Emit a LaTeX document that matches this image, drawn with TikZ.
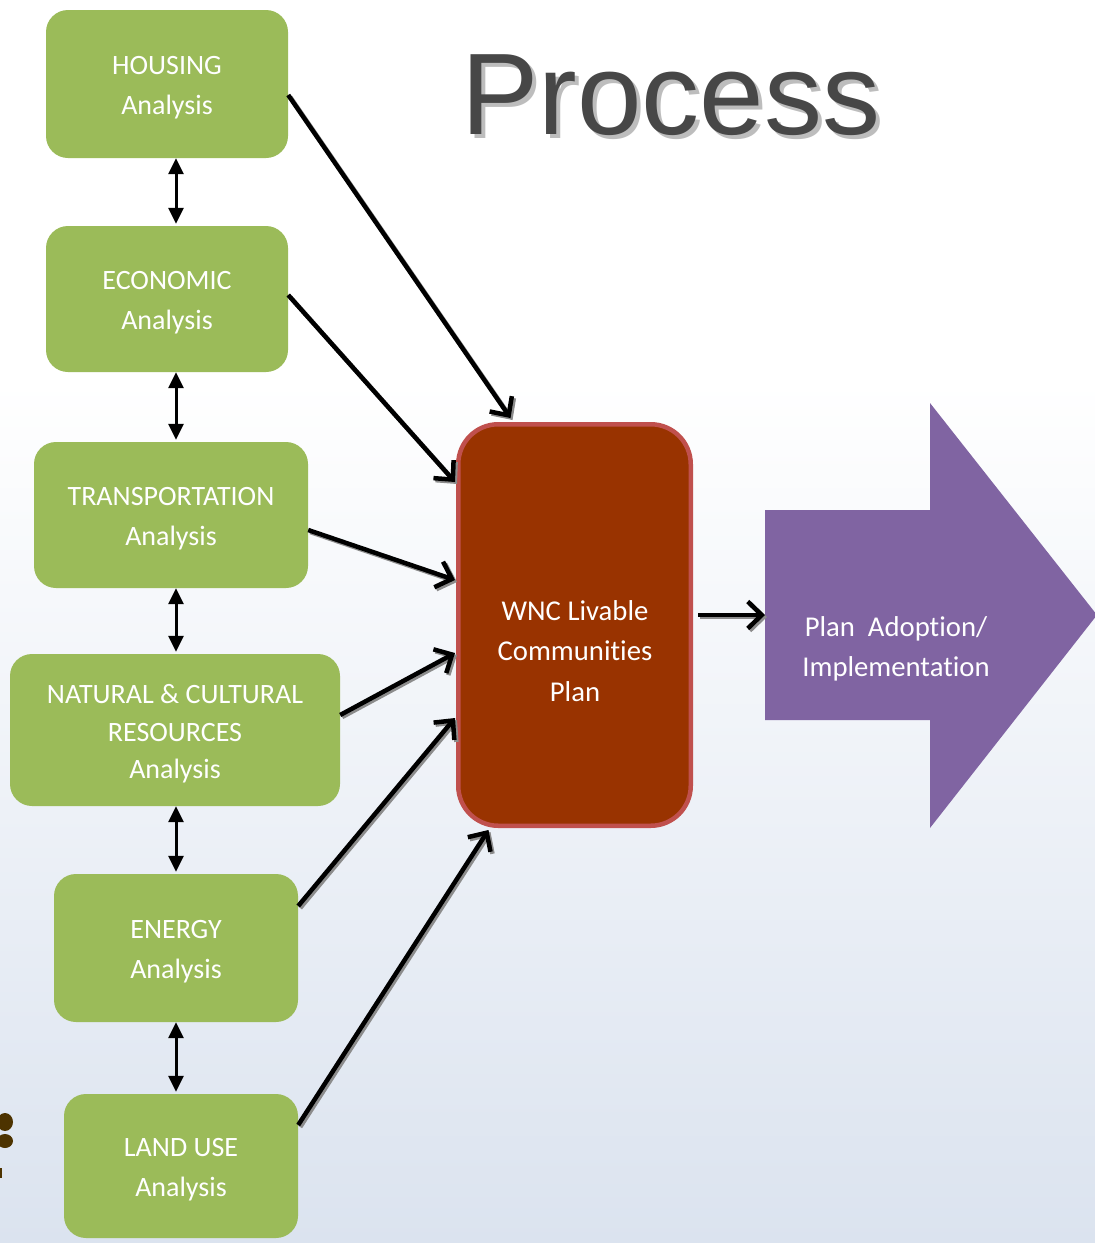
\documentclass[tikz,border=0pt]{standalone}
\usepackage{fontspec}
\setmainfont{Carlito}[Ligatures=NoCommon]
\newfontfamily\titlefont{Liberation Sans}
\usetikzlibrary{arrows.meta,calc}
\definecolor{boxgreen}{HTML}{9BBB59}
\definecolor{planred}{HTML}{993300}
\definecolor{planborder}{HTML}{C0504D}
\definecolor{adoptpurple}{HTML}{8064A2}
\definecolor{bgblue}{RGB}{219,227,239}
\definecolor{titlegray}{HTML}{474747}
\definecolor{titleshadow}{HTML}{BDBDBD}
\definecolor{blobbrown}{RGB}{77,51,0}
\newcommand\lowline[1]{\raisebox{-4pt}[\height][\depth]{#1}}
\tikzset{
  anbox/.style={fill=boxgreen, draw=none, rounded corners=22pt, inner sep=0pt,
    text=white, align=center, font=\fontsize{28}{40}\selectfont},
  conn/.style={line width=4.5pt, -{Straight Barb[length=14pt,width=27pt]},
    preaction={draw=black!45, line width=4.5pt, -{Straight Barb[length=14pt,width=27pt]},
      transform canvas={xshift=2pt,yshift=-2pt}}},
  link/.style={line width=3pt, {Triangle[length=16pt,width=15pt]}-{Triangle[length=16pt,width=15pt]}},
}
\begin{document}
\begin{tikzpicture}[x=1pt,y=-1pt]
\useasboundingbox (0,0) rectangle (1095,1243);
% background
\fill[white] (0,0) rectangle (1095,1243);
\shade[top color=white, bottom color=bgblue] (0,380) rectangle (1095,1243);
% small fragment at left edge
\fill[blobbrown] (5,1122) ellipse [x radius=8, y radius=9];
\fill[blobbrown] (5,1141) ellipse [x radius=8, y radius=7];
\fill[blobbrown] (0,1168) rectangle (2,1178);

% title
\node[text=titleshadow, font=\titlefont\fontsize{116}{116}\selectfont, anchor=base, inner sep=0pt] (titleshadow) at (675,138) {Process};
\node[text=titlegray, font=\titlefont\fontsize{116}{116}\selectfont, anchor=base, inner sep=0pt] (title) at (671,134) {Process};

% analysis boxes
\node[anbox, minimum width=242pt, minimum height=148pt] (housing) at (167,84) {\lowline{HOUSING}\\\lowline{Analysis}};
\node[anbox, minimum width=242pt, minimum height=146pt] (economic) at (167,299) {\lowline{ECONOMIC}\\\lowline{Analysis}};
\node[anbox, minimum width=274pt, minimum height=146pt] (transport) at (171,515) {\lowline{TRANSPORTATION}\\\lowline{Analysis}};
\node[anbox, minimum width=330pt, minimum height=152pt, font=\fontsize{28}{37.5}\selectfont] (natural) at (175,730) {\lowline{NATURAL \& CULTURAL}\\\lowline{RESOURCES}\\\lowline{Analysis}};
\node[anbox, minimum width=244pt, minimum height=148pt] (energy) at (176,948) {\lowline{ENERGY}\\\lowline{Analysis}};
\node[anbox, minimum width=234pt, minimum height=144pt] (landuse) at (181,1166) {\lowline{LAND USE}\\\lowline{Analysis}};

% plan box
\node[fill=planred, draw=planborder, line width=4.5pt, rounded corners=40pt, inner sep=0pt,
  minimum width=232.5pt, minimum height=401.5pt] (wnc) at (574.5,625) {};
\node[text=white, align=center, font=\fontsize{28.7}{40.5}\selectfont, inner sep=0pt] (wnctext) at (575,651) {WNC Livable\\Communities\\Plan};

% adoption arrow
\fill[adoptpurple] (765,510) -- (930,510) -- (930,403) -- (1097,615) -- (930,828) -- (930,720) -- (765,720) -- cycle;
\coordinate (adopt) at (765,615);
\node[text=white, align=center, font=\fontsize{28.7}{40}\selectfont, inner sep=0pt] (adopttext) at (896,649) {Plan\ \ Adoption/\\Implementation};

% vertical links
\draw[link] ($(housing.south)+(9,0)$) -- ($(economic.north)+(9,-2)$);
\draw[link] ($(economic.south)+(9,0)$) -- ($(transport.north)+(5,-2)$);
\draw[link] ($(transport.south)+(5,0)$) -- ($(natural.north)+(1,-2)$);
\draw[link] ($(natural.south)+(1,0)$) -- ($(energy.north)+(0,-2)$);
\draw[link] ($(energy.south)+(0,0)$) -- ($(landuse.north)+(-5,-2)$);

% connectors to plan
\draw[conn] ($(housing.east)+(0,11)$) -- ($(wnc.north)+(-64,-4)$);
\draw[conn] ($(economic.east)+(0,-4)$) -- ($(wnc.west)+(-1,-143)$);
\draw[conn] ($(transport.east)+(0,15)$) -- ($(wnc.west)+(-1,-45)$);
\draw[conn] ($(natural.east)+(0,-15)$) -- ($(wnc.west)+(-1,28)$);
\draw[conn] ($(energy.east)+(0,-42)$) -- ($(wnc.west)+(-1,93)$);
\draw[conn] ($(landuse.east)+(0,-41)$) -- ($(wnc.south)+(-86,2)$);
\draw[conn] ($(wnc.east)+(5,-10)$) -- (adopt);
\end{tikzpicture}
\end{document}
